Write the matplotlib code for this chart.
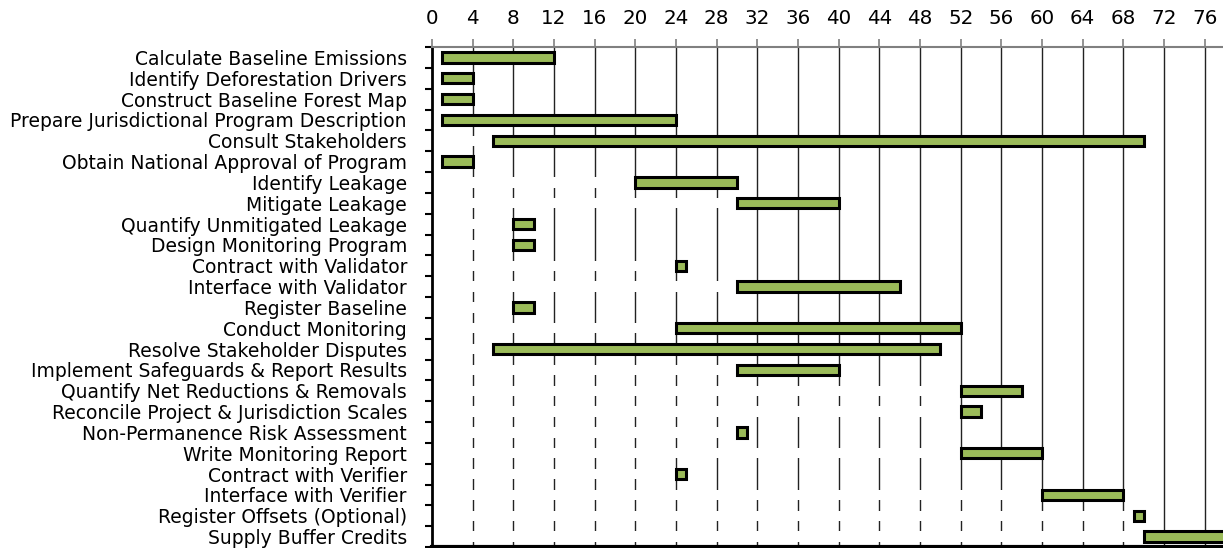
import numpy as np
import matplotlib
matplotlib.use("Agg")
import matplotlib.pyplot as plt
from matplotlib.ticker import FixedLocator

tasks = [
    "Calculate Baseline Emissions",
    "Identify Deforestation Drivers",
    "Construct Baseline Forest Map",
    "Prepare Jurisdictional Program Description",
    "Consult Stakeholders",
    "Obtain National Approval of Program",
    "Identify Leakage",
    "Mitigate Leakage",
    "Quantify Unmitigated Leakage",
    "Design Monitoring Program",
    "Contract with Validator",
    "Interface with Validator",
    "Register Baseline",
    "Conduct Monitoring",
    "Resolve Stakeholder Disputes",
    "Implement Safeguards & Report Results",
    "Quantify Net Reductions & Removals",
    "Reconcile Project & Jurisdiction Scales",
    "Non-Permanence Risk Assessment",
    "Write Monitoring Report",
    "Contract with Verifier",
    "Interface with Verifier",
    "Register Offsets (Optional)",
    "Supply Buffer Credits",
]
start = [1, 1, 1, 1, 6, 1, 20, 30, 8, 8, 24, 30, 8, 24, 6, 30, 52, 52, 30, 52, 24, 60, 69, 70]
end = [12, 4, 4, 24, 70, 4, 30, 40, 10, 10, 25, 46, 10, 52, 50, 40, 58, 54, 31, 60, 25, 68, 70, 82]
x_ticks = list(range(0, 80, 4))

start = np.array(start)
duration = np.array(end) - start
ypos = np.arange(len(tasks))

fig = plt.figure(figsize=(12.23, 5.48), dpi=100)
ax = fig.add_axes([432 / 1223, 1 / 548, 1 - 432 / 1223, 500 / 548])

# vertical grid lines behind everything
for v in x_ticks[1:]:
    ax.axvline(v, color="#222222", lw=1.0, zorder=0)

# white "offset" bars hide the grid before the task starts (classic stacked gantt)
ax.barh(ypos, start, height=0.5, color="white", edgecolor="none", zorder=1)
ax.barh(ypos, duration, left=start, height=0.5, color="#9BBB59",
        edgecolor="black", linewidth=2.2, zorder=2)

ax.set_xlim(0, 77.8)
ax.set_ylim(len(tasks) - 0.5, -0.5)

ax.xaxis.tick_top()
ax.set_xticks(x_ticks)
ax.tick_params(axis="x", direction="out", length=6, width=1.2, color="#808080",
               labelsize=14.3, pad=8, labelcolor="black")

ax.set_yticks(ypos)
ax.set_yticklabels(tasks)
ax.yaxis.set_minor_locator(FixedLocator(np.arange(-0.5, len(tasks), 1.0)))
ax.tick_params(axis="y", which="major", length=0, pad=18, labelsize=13.5)
ax.tick_params(axis="y", which="minor", length=5, width=1.5, color="black")

ax.spines["right"].set_visible(False)
ax.spines["top"].set_color("#808080")
ax.spines["top"].set_linewidth(1.5)
ax.spines["left"].set_linewidth(2)
ax.spines["bottom"].set_linewidth(3)

fig.savefig("out.png", dpi=100)
